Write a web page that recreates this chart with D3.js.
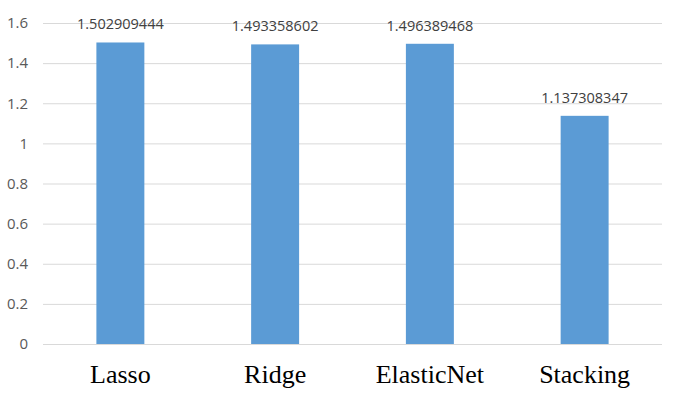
<!DOCTYPE html>
<html>
<head>
<meta charset="utf-8">
<script src="https://cdn.jsdelivr.net/npm/d3@7"></script>
<style>
  body { margin: 0; background: #fff; }
</style>
</head>
<body>
<div class="chart"></div>
<script>
const categories = ['Lasso', 'Ridge', 'ElasticNet', 'Stacking'];
const values = [1.502909444, 1.493358602, 1.496389468, 1.137308347];
const valueLabels = ['1.502909444', '1.493358602', '1.496389468', '1.137308347'];
const yTicks = [0, 0.2, 0.4, 0.6, 0.8, 1, 1.2, 1.4, 1.6];

const width = 674;
const height = 393;
const margin = {top: 23, right: 12, bottom: 49, left: 43};

const svg = d3.select('.chart')
  .append('svg')
  .attr('width', width)
  .attr('height', height);

const x = d3.scaleBand()
  .domain(categories)
  .range([margin.left, width - margin.right])
  .paddingInner(0.69)
  .paddingOuter(0.345);

const y = d3.scaleLinear()
  .domain([0, 1.6])
  .range([height - margin.bottom, margin.top]);

// gridlines + y labels
const yAxis = svg.append('g')
  .attr('transform', `translate(${margin.left},0)`)
  .call(d3.axisLeft(y).tickValues(yTicks).tickSize(-(width - margin.left - margin.right)).tickPadding(15)
    .tickFormat(d => d3.format('')(+d.toFixed(1))));

yAxis.select('.domain').remove();
yAxis.selectAll('.tick line').attr('stroke', '#d9d9d9').attr('stroke-width', 1);
yAxis.selectAll('.tick text')
  .attr('fill', '#595959')
  .style('font-family', 'Open Sans, sans-serif')
  .style('font-size', '15px');

svg.append('g')
  .selectAll('rect')
  .data(values)
  .join('rect')
  .attr('x', (d, i) => x(categories[i]))
  .attr('y', d => y(d))
  .attr('width', x.bandwidth())
  .attr('height', d => y(0) - y(d))
  .attr('fill', '#5b9bd5');

svg.append('g')
  .selectAll('text')
  .data(values)
  .join('text')
  .attr('x', (d, i) => x(categories[i]) + x.bandwidth() / 2)
  .attr('y', d => y(d) - 13)
  .attr('text-anchor', 'middle')
  .attr('fill', '#404040')
  .style('font-family', 'Open Sans, sans-serif')
  .style('font-size', '14.5px')
  .text((d, i) => valueLabels[i]);

svg.append('g')
  .selectAll('text')
  .data(categories)
  .join('text')
  .attr('x', d => x(d) + x.bandwidth() / 2)
  .attr('y', height - 10)
  .attr('text-anchor', 'middle')
  .attr('fill', '#000')
  .style('font-family', 'Liberation Serif, serif')
  .style('font-size', '26px')
  .text(d => d);
</script>
</body>
</html>
